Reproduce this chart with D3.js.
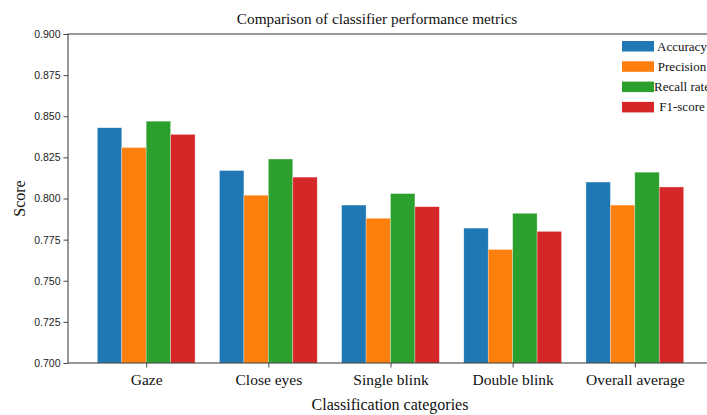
<!DOCTYPE html>
<html>
<head>
<meta charset="utf-8">
<script src="https://cdn.jsdelivr.net/npm/d3@7"></script>
<style>
  body { margin: 0; background: #fff; }
  svg { display: block; }
</style>
</head>
<body>
<script>
const categories = ["Gaze", "Close eyes", "Single blink", "Double blink", "Overall average"];
const seriesNames = ["Accuracy", "Precision", "Recall rate", "F1-score"];
const accuracy = [0.843, 0.817, 0.796, 0.782, 0.810];
const precision = [0.831, 0.802, 0.788, 0.769, 0.796];
const recall = [0.847, 0.824, 0.803, 0.791, 0.816];
const f1score = [0.839, 0.813, 0.795, 0.780, 0.807];
const yTicks = [0.700, 0.725, 0.750, 0.775, 0.800, 0.825, 0.850, 0.875, 0.900];
const colors = ["#1f77b4", "#ff7f0e", "#2ca02c", "#d62728"];

const series = [accuracy, precision, recall, f1score];
const width = 707, height = 415;
const margin = {left: 68, top: 34, right: 713, bottom: 363};
const serif = "'Liberation Serif', 'DejaVu Serif', serif";
const sans = "'Liberation Sans', Arial, sans-serif";

const svg = d3.select("body").append("svg")
    .attr("width", width)
    .attr("height", height);

// linear x like matplotlib: bars from i-0.4 to i+0.4, with 5% margins
const x = d3.scaleLinear().domain([-0.64, 4.64]).range([margin.left, margin.right]);
const y = d3.scaleLinear().domain([0.7, 0.9]).range([margin.bottom, margin.top]);
const barW = 0.2;

const g = svg.append("g");
series.forEach((vals, s) => {
    g.append("g").selectAll("rect")
        .data(vals)
        .enter()
        .append("rect")
        .attr("x", (d, i) => x(i - 0.4 + s * barW))
        .attr("width", x(barW) - x(0))
        .attr("y", d => y(d))
        .attr("height", d => y(0.7) - y(d))
        .style("fill", colors[s])
        .style("stroke", "#ffffff")
        .style("stroke-opacity", 0.5)
        .style("stroke-width", 0.6);
});

// axes
const yAxis = svg.append("g")
    .attr("transform", `translate(${margin.left},0)`)
    .call(d3.axisLeft(y).tickValues(yTicks).tickFormat(d3.format(".3f")).tickSizeOuter(0).tickSize(4.5).tickPadding(3));
yAxis.selectAll("text").style("font-family", sans).style("font-size", "10.5px").style("fill", "#222");

const xAxis = svg.append("g")
    .attr("transform", `translate(0,${margin.bottom})`)
    .call(d3.axisBottom(x).tickValues(d3.range(categories.length)).tickFormat(i => categories[i]).tickSizeOuter(0).tickSize(4.5).tickPadding(6));
xAxis.selectAll("text").style("font-family", serif).style("font-size", "15.5px").style("fill", "#111");

svg.selectAll(".domain").remove();
svg.selectAll(".tick line").style("stroke", "#333").style("stroke-width", 0.9);

// frame
svg.append("rect")
    .attr("x", margin.left)
    .attr("y", margin.top)
    .attr("width", margin.right - margin.left)
    .attr("height", margin.bottom - margin.top)
    .style("fill", "none")
    .style("stroke", "#333")
    .style("stroke-width", 1);

// titles
svg.append("text")
    .attr("x", 377)
    .attr("y", 24)
    .attr("text-anchor", "middle")
    .style("font-family", serif)
    .style("font-size", "15.3px")
    .style("fill", "#111")
    .text("Comparison of classifier performance metrics");

svg.append("text")
    .attr("x", 390)
    .attr("y", 410)
    .attr("text-anchor", "middle")
    .style("font-family", serif)
    .style("font-size", "16px")
    .style("fill", "#111")
    .text("Classification categories");

svg.append("text")
    .attr("transform", `translate(25,${(margin.top + margin.bottom) / 2}) rotate(-90)`)
    .attr("text-anchor", "middle")
    .style("font-family", serif)
    .style("font-size", "16px")
    .style("fill", "#111")
    .text("Score");

// legend (cut at the right edge, as in the reference)
const legend = svg.append("g").attr("transform", "translate(622,41)");
seriesNames.forEach((name, i) => {
    const row = legend.append("g").attr("transform", `translate(0,${i * 20.3})`);
    row.append("rect")
        .attr("width", 32)
        .attr("height", 10.5)
        .style("fill", colors[i]);
    row.append("text")
        .attr("x", 60)
        .attr("y", 9.5)
        .attr("text-anchor", "middle")
        .style("font-family", serif)
        .style("font-size", "13px")
        .style("fill", "#111")
        .text(name);
});
</script>
</body>
</html>
